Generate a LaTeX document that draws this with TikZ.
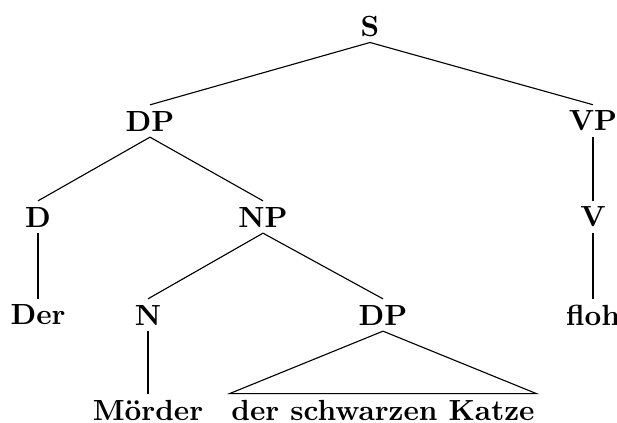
\documentclass[tikz,border=0pt]{standalone}
\usepackage{tikz}

\begin{document}
\begin{tikzpicture}[x=0.01255cm, y=-0.01255cm,
  every node/.style={font=\fontsize{10.4pt}{12.5pt}\selectfont\bfseries,
    inner ysep=2pt, inner xsep=0.5pt}]
  \useasboundingbox (0,0) rectangle (617,422);

  % Categories
  \node (s)   at (370,26)  {S};
  \node (dp)  at (150,121) {DP};
  \node (vp)  at (593,121) {VP};
  \node (d)   at (38,217)  {D};
  \node (np)  at (263,217) {NP};
  \node (v)   at (593,217) {V};
  \node (der) at (38,315)  {Der};
  \node (n)   at (148,315) {N};
  \node (dpb) at (383,315) {DP};
  \node (floh) at (593,315) {floh};
  \node (moerder) at (148,410) {Mörder};
  \node (katze)   at (383,410) {der schwarzen Katze};

  % Branches
  \draw (s.south) -- (dp.north);
  \draw (s.south) -- (vp.north);
  \draw (dp.south) -- (d.north);
  \draw (dp.south) -- (np.north);
  \draw (vp.south) -- (v.north);
  \draw (d.south) -- (der.north);
  \draw (np.south) -- (n.north);
  \draw (np.south) -- (dpb.north);
  \draw (v.south) -- (floh.north);
  \draw (n.south) -- (moerder.north);

  % Triangle over the unanalysed DP
  \draw (dpb.south) -- (katze.north west) -- (katze.north east) -- cycle;
\end{tikzpicture}
\end{document}
